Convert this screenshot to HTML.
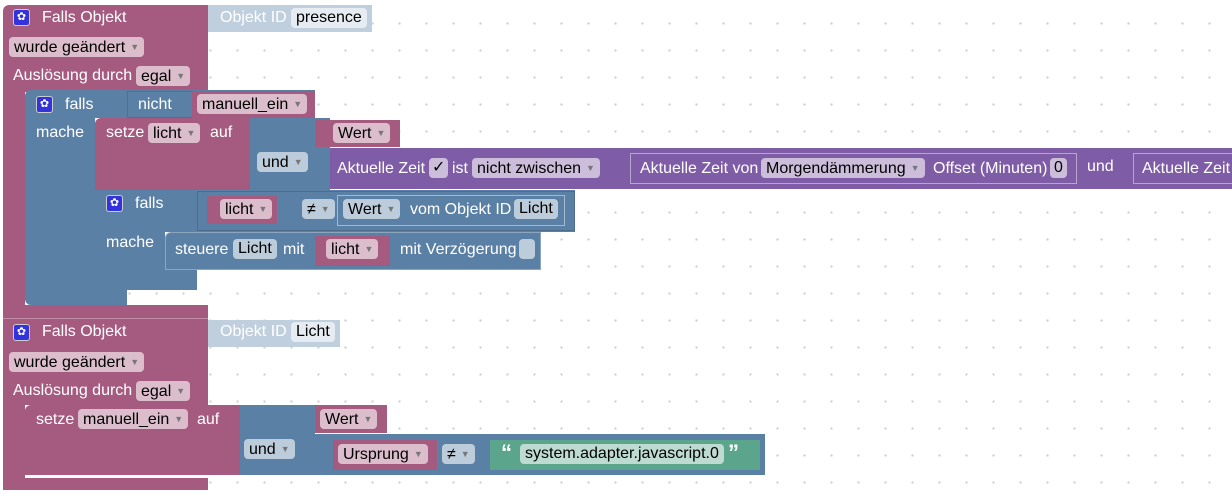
<!DOCTYPE html>
<html><head><meta charset="utf-8"><style>
html,body{margin:0;padding:0}
body{width:1232px;height:501px;position:relative;overflow:hidden;background:#fff;
background-image:radial-gradient(circle,#ccc 1px,transparent 1.3px);background-size:27px 27px;background-position:8px 10px;
font-family:"Liberation Sans",sans-serif;font-size:16px;color:#fff}
.b{position:absolute}
.m{background:#a55b80}.bl{background:#5b80a5}.p{background:#7f5ca6}.g{background:#5ba58c}.lb{background:#c0cfde}
.t{position:absolute;white-space:nowrap;line-height:18px}
.f{position:absolute;white-space:nowrap;line-height:20px;height:20px;border-radius:4px;background:rgba(255,255,255,.6);color:#000;padding:0 5px;box-sizing:border-box}
.f i{font-style:normal;font-size:9px;color:#777;margin-left:5px;vertical-align:2px}
.ic{position:absolute;width:17px;height:17px;border-radius:3px;background:#3333dd;border:1px solid #ccc;box-sizing:border-box;color:#fff;font-size:11px;line-height:15px;text-align:center}
.o{position:absolute;border:1px solid rgba(255,255,255,.45);box-sizing:border-box}
</style></head><body>

<!-- Block 1 -->
<div class="b m" style="left:3px;top:5px;width:205px;height:87px;border-radius:6px 0 0 0"></div>
<div class="b m" style="left:3px;top:92px;width:22px;height:226px"></div>
<div class="b m" style="left:3px;top:305px;width:205px;height:13px"></div>
<div class="b lb" style="left:208px;top:5px;width:164px;height:27px"></div>
<div class="ic" style="left:13px;top:9px">✿</div>
<div class="t" style="left:42px;top:9px">Falls Objekt</div>
<div class="t" style="left:220px;top:9px">Objekt ID</div>
<div class="f" style="left:291px;top:8px">presence</div>
<div class="f" style="left:9px;top:37px">wurde geändert<i>▼</i></div>
<div class="t" style="left:13px;top:67px">Auslösung durch</div>
<div class="f" style="left:136px;top:66px">egal<i>▼</i></div>

<!-- Outer falls (blue) -->
<div class="b bl" style="left:25px;top:90px;width:290px;height:28px;border-radius:6px 0 0 0"></div>
<div class="o" style="left:127px;top:91px;width:66px;height:27px;border-color:rgba(0,0,0,.12)"></div>
<div class="b bl" style="left:25px;top:118px;width:70px;height:172px"></div>
<div class="b bl" style="left:25px;top:285px;width:102px;height:20px;border-radius:0 0 0 6px"></div>
<div class="ic" style="left:36px;top:96px">✿</div>
<div class="t" style="left:65px;top:96px">falls</div>
<div class="t" style="left:138px;top:96px">nicht</div>
<div class="b m" style="left:192px;top:91px;width:123px;height:27px"></div>
<div class="f" style="left:197px;top:94px">manuell_ein<i>▼</i></div>
<div class="t" style="left:36px;top:124px">mache</div>

<!-- setze licht -->
<div class="b m" style="left:95px;top:118px;width:155px;height:72px;border-radius:6px 0 0 0"></div>
<div class="t" style="left:106px;top:124px">setze</div>
<div class="f" style="left:148px;top:123px">licht<i>▼</i></div>
<div class="t" style="left:210px;top:124px">auf</div>
<div class="b bl" style="left:250px;top:118px;width:80px;height:72px"></div>
<div class="b m" style="left:315px;top:120px;width:85px;height:27px"></div>
<div class="f" style="left:333px;top:123px">Wert<i>▼</i></div>
<div class="f" style="left:257px;top:152px">und<i>▼</i></div>
<div class="b p" style="left:330px;top:148px;width:902px;height:41px"></div>
<div class="t" style="left:337px;top:160px">Aktuelle Zeit</div>
<div class="f" style="left:429px;top:158px;padding:0 3px">✓</div>
<div class="t" style="left:452px;top:160px">ist</div>
<div class="f" style="left:472px;top:158px">nicht zwischen<i>▼</i></div>
<div class="o" style="left:630px;top:153px;width:447px;height:31px"></div>
<div class="t" style="left:640px;top:160px">Aktuelle Zeit von</div>
<div class="f" style="left:761px;top:158px">Morgendämmerung<i>▼</i></div>
<div class="t" style="left:933px;top:160px">Offset (Minuten)</div>
<div class="f" style="left:1050px;top:158px;padding:0 4px">0</div>
<div class="t" style="left:1087px;top:158px">und</div>
<div class="o" style="left:1133px;top:153px;width:110px;height:31px"></div>
<div class="t" style="left:1142px;top:160px">Aktuelle Zeit</div>

<!-- inner falls -->
<div class="b bl" style="left:95px;top:190px;width:102px;height:42px"></div>
<div class="b bl" style="left:197px;top:190px;width:378px;height:42px"></div>
<div class="o" style="left:197px;top:191px;width:378px;height:40px;border-color:rgba(0,0,0,.15)"></div>
<div class="b bl" style="left:95px;top:232px;width:70px;height:40px"></div>
<div class="b bl" style="left:95px;top:270px;width:102px;height:20px;border-radius:0 0 0 6px"></div>
<div class="ic" style="left:106px;top:195px">✿</div>
<div class="t" style="left:135px;top:195px">falls</div>
<div class="b m" style="left:207px;top:196px;width:70px;height:28px"></div>
<div class="f" style="left:220px;top:199px">licht<i>▼</i></div>
<div class="f" style="left:302px;top:199px">≠<i>▼</i></div>
<div class="o" style="left:337px;top:195px;width:228px;height:31px"></div>
<div class="f" style="left:343px;top:199px">Wert<i>▼</i></div>
<div class="t" style="left:410px;top:201px">vom Objekt ID</div>
<div class="f" style="left:514px;top:199px">Licht</div>
<div class="t" style="left:106px;top:234px">mache</div>
<div class="b bl" style="left:165px;top:232px;width:376px;height:38px;border-radius:6px 0 0 0;border:1px solid rgba(255,255,255,.3);box-sizing:border-box"></div>
<div class="t" style="left:175px;top:241px">steuere</div>
<div class="f" style="left:233px;top:239px">Licht</div>
<div class="t" style="left:283px;top:241px">mit</div>
<div class="b m" style="left:315px;top:236px;width:75px;height:30px"></div>
<div class="f" style="left:326px;top:239px">licht<i>▼</i></div>
<div class="t" style="left:400px;top:241px">mit Verzögerung</div>
<div class="f" style="left:519px;top:239px;width:16px;padding:0"></div>

<!-- Block 2 -->
<div class="b m" style="left:3px;top:318px;width:205px;height:87px;border-top:1px solid rgba(255,255,255,.3);box-sizing:border-box"></div>
<div class="b m" style="left:3px;top:405px;width:22px;height:85px"></div>
<div class="b m" style="left:3px;top:478px;width:205px;height:12px;border-radius:0 0 0 6px"></div>
<div class="b lb" style="left:208px;top:320px;width:132px;height:27px"></div>
<div class="ic" style="left:13px;top:324px">✿</div>
<div class="t" style="left:42px;top:323px">Falls Objekt</div>
<div class="t" style="left:220px;top:323px">Objekt ID</div>
<div class="f" style="left:291px;top:322px">Licht</div>
<div class="f" style="left:9px;top:352px">wurde geändert<i>▼</i></div>
<div class="t" style="left:13px;top:382px">Auslösung durch</div>
<div class="f" style="left:136px;top:381px">egal<i>▼</i></div>

<div class="b m" style="left:25px;top:405px;width:215px;height:70px;border-radius:6px 0 0 0"></div>
<div class="t" style="left:36px;top:411px">setze</div>
<div class="f" style="left:78px;top:409px">manuell_ein<i>▼</i></div>
<div class="t" style="left:197px;top:411px">auf</div>
<div class="b bl" style="left:240px;top:405px;width:75px;height:70px"></div>
<div class="b m" style="left:315px;top:405px;width:72px;height:28px"></div>
<div class="f" style="left:320px;top:409px">Wert<i>▼</i></div>
<div class="f" style="left:244px;top:439px">und<i>▼</i></div>
<div class="b bl" style="left:315px;top:434px;width:450px;height:41px"></div>
<div class="b m" style="left:333px;top:440px;width:104px;height:30px"></div>
<div class="f" style="left:338px;top:444px">Ursprung<i>▼</i></div>
<div class="f" style="left:442px;top:444px">≠<i>▼</i></div>
<div class="b g" style="left:490px;top:440px;width:270px;height:30px"></div>
<div class="t" style="left:501px;top:444px;font-weight:bold;font-size:22px">“</div>
<div class="f" style="left:520px;top:444px">system.adapter.javascript.0</div>
<div class="t" style="left:728px;top:444px;font-weight:bold;font-size:22px">”</div>
</body></html>
